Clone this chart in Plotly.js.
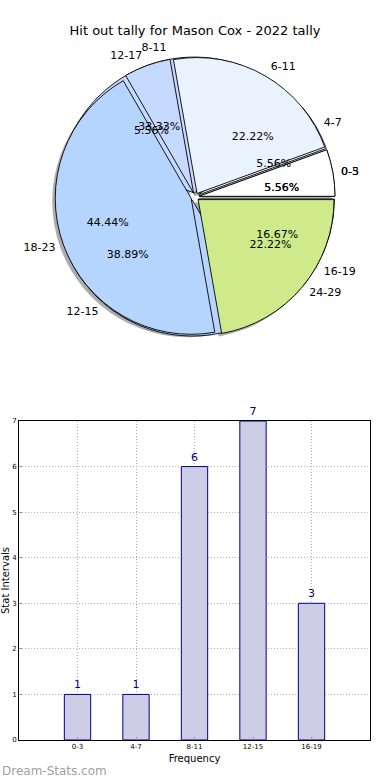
<!DOCTYPE html>
<html>
<head>
<meta charset="utf-8">
<script src="https://cdn.plot.ly/plotly-3.0.1.min.js"></script>
<style>html,body{margin:0;padding:0;background:#fff;}#chart{width:390px;height:780px;}</style>
</head>
<body>
<div id="chart"></div>
<script>
// 4-point intervals (bar chart and first pie)
const binsA = ['0-3', '4-7', '8-11', '12-15', '16-19'];
const countsA = [1, 1, 6, 7, 3];
// 6-point intervals (second pie)
const binsB = ['0-5', '6-11', '12-17', '18-23', '24-29'];
const countsB = [1, 4, 1, 8, 4];

const sliceColors = ['#ffffff', '#eaf2fe', '#c6d9fe', '#b5d5fe', '#cfea8b'];
const FONT = 'DejaVu Sans, sans-serif';
const W = 390, H = 780;

// pie geometry (pixels)
const cx = 195, cy = 197, R = 140, Rl = 145, Rp = 67, PULL = 0.03;
function dom(x0, y0, r) {
  return { x: [(x0 - r) / W, (x0 + r) / W], y: [1 - (y0 + r) / H, 1 - (y0 - r) / H] };
}
const mainDom = dom(cx, cy, R);
const shadowDom = dom(cx - 3, cy + 3, R);
const labelDom = dom(cx, cy, Rl);
const pctDom = dom(cx, cy + 2, Rp);

// first slice should start at 3 o'clock and run counterclockwise
function rot(vals) {
  const tot = vals.reduce((a, b) => a + b, 0);
  return 90 - 360 * vals[0] / tot;
}

const pieCommon = {
  type: 'pie', sort: false, direction: 'counterclockwise',
  hoverinfo: 'skip', showlegend: false
};
const clear = ['rgba(0,0,0,0)', 'rgba(0,0,0,0)', 'rgba(0,0,0,0)', 'rgba(0,0,0,0)', 'rgba(0,0,0,0)'];
const txtFont = { family: FONT, size: 11, color: '#000' };

function slices(labels, values, domain) {
  return Object.assign({}, pieCommon, {
    labels: labels, values: values, domain: domain, pull: PULL, rotation: rot(values),
    marker: { colors: sliceColors, line: { color: '#000', width: 0.9 } },
    textinfo: 'none'
  });
}
function textRing(labels, values, domain, tmpl, pull) {
  return Object.assign({}, pieCommon, {
    labels: labels, values: values, domain: domain, pull: pull, rotation: rot(values),
    marker: { colors: clear, line: { width: 0 } },
    texttemplate: tmpl, textposition: 'outside', outsidetextfont: txtFont
  });
}

const traces = [
  Object.assign({}, pieCommon, {
    labels: binsB, values: countsB, domain: shadowDom, pull: PULL, rotation: rot(countsB),
    marker: { colors: ['#8a8a8a', '#8a8a8a', '#8a8a8a', '#8a8a8a', '#8a8a8a'], line: { width: 0 } },
    opacity: 0.7, textinfo: 'none'
  }),
  slices(binsA, countsA, mainDom),
  slices(binsB, countsB, mainDom),
  textRing(binsA, countsA, labelDom, '%{label}', PULL),
  textRing(binsB, countsB, labelDom, '%{label}', PULL),
  textRing(binsA, countsA, pctDom, '%{percent:.2%}', 0),
  textRing(binsB, countsB, pctDom, '%{percent:.2%}', 0),
  {
    type: 'bar', x: binsA, y: countsA, width: 0.45,
    marker: { color: '#cdcde6', line: { color: '#000080', width: 1 } },
    text: countsA.map(String), textposition: 'outside', cliponaxis: false,
    textfont: { family: FONT, size: 11, color: '#000080' },
    hoverinfo: 'skip', showlegend: false, xaxis: 'x', yaxis: 'y'
  }
];

const layout = {
  width: W, height: H,
  margin: { l: 0, r: 0, t: 0, b: 0 },
  paper_bgcolor: '#fff', plot_bgcolor: '#fff',
  font: { family: FONT, color: '#000' },
  showlegend: false,
  title: {
    text: 'Hit out tally for Mason Cox - 2022 tally',
    font: { family: FONT, size: 13, color: '#000' },
    x: 0.5, xanchor: 'center', xref: 'paper',
    y: 1 - 30 / H, yanchor: 'middle', yref: 'paper'
  },
  xaxis: {
    domain: [19 / W, 370 / W], anchor: 'y',
    type: 'category', range: [-1, 5],
    showline: true, mirror: true, linecolor: '#000', linewidth: 1,
    showgrid: true, gridcolor: '#b0b0b0', griddash: '1px,2px', gridwidth: 1,
    ticks: 'inside', ticklen: 3, tickcolor: '#999',
    tickfont: { family: FONT, size: 7, color: '#000' },
    title: { text: 'Frequency', font: { family: FONT, size: 10, color: '#000' }, standoff: 4 },
    zeroline: false, fixedrange: true
  },
  yaxis: {
    domain: [1 - 740 / H, 1 - 421 / H], anchor: 'x',
    range: [0, 7], dtick: 1, tick0: 0,
    showline: true, mirror: true, linecolor: '#000', linewidth: 1,
    showgrid: true, gridcolor: '#b0b0b0', griddash: '1px,2px', gridwidth: 1,
    ticks: 'inside', ticklen: 3, tickcolor: '#999',
    tickfont: { family: FONT, size: 7, color: '#000' },
    title: { text: 'Stat Intervals', font: { family: FONT, size: 10, color: '#000' }, standoff: 2 },
    zeroline: false, fixedrange: true
  },
  annotations: [{
    text: 'Dream-Stats.com', xref: 'paper', yref: 'paper',
    x: 0, xanchor: 'left', y: 1 - 771 / H, yanchor: 'middle',
    showarrow: false, font: { family: FONT, size: 12, color: '#a0a0a0' }
  }]
};

Plotly.newPlot('chart', traces, layout, { staticPlot: true, displayModeBar: false });
</script>
</body>
</html>
